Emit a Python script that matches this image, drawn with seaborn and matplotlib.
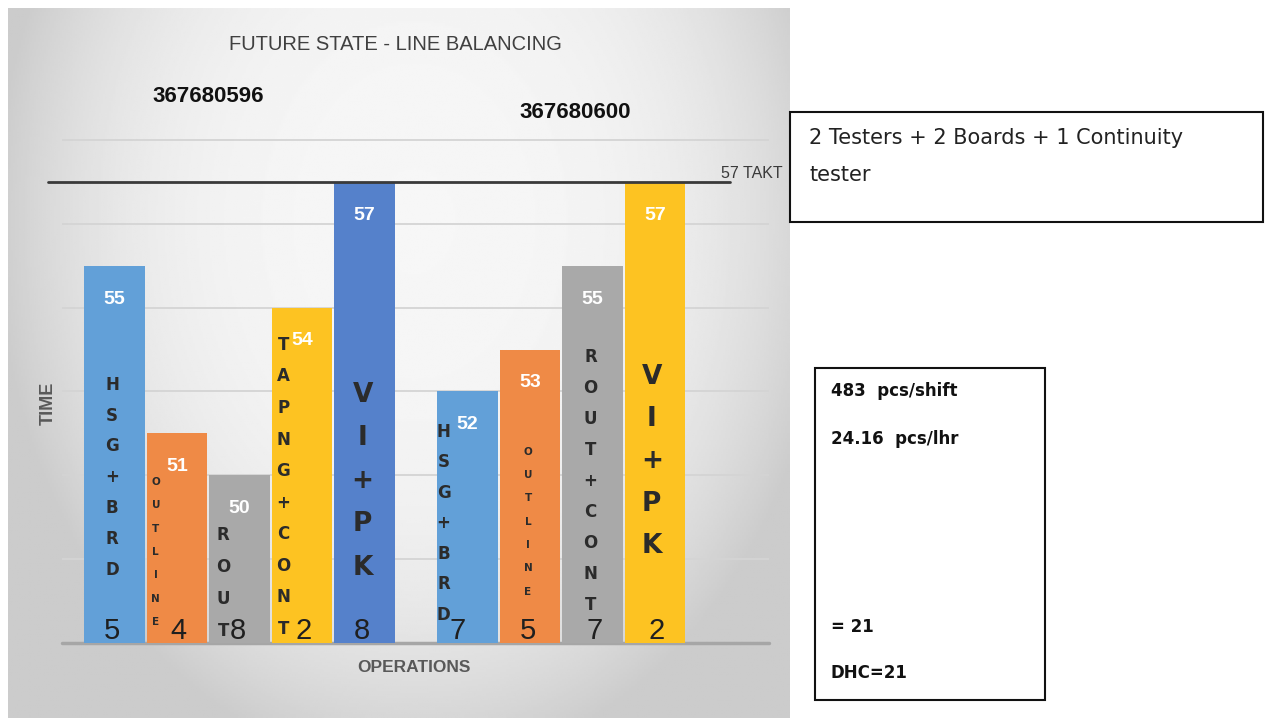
import numpy as np
import pandas as pd
import matplotlib
matplotlib.use("Agg")
import matplotlib.pyplot as plt
import seaborn as sns
from matplotlib import font_manager
from matplotlib.patches import Rectangle

# ---------------- data ----------------
operations = ["HSG+BRD", "OUTLINE", "ROUT", "TAPNG+CONT", "VI+PK",
              "HSG+BRD", "OUTLINE", "ROUT+CONT", "VI+PK"]
cycle_time = [55, 51, 50, 54, 57, 52, 53, 55, 57]
operators = [5, 4, 8, 2, 8, 7, 5, 7, 2]
group = [0, 0, 0, 0, 0, 1, 1, 1, 1]
part_numbers = ["367680596", "367680600"]
takt_time = 57
title = "FUTURE STATE - LINE BALANCING"
box1_lines = ["2 Testers + 2 Boards + 1 Continuity", "tester"]
box2_lines = ["483  pcs/shift", "24.16  pcs/lhr", "= 21", "DHC=21"]

# ---------------- style / layout ----------------
colors = ["#62a0d8", "#ef8a46", "#a9a9a9", "#fdc322", "#5581cb",
          "#62a0d8", "#ef8a46", "#a9a9a9", "#fdc322"]
group_gap = 0.645
# letter stack layout: (dx, top value, step, fontsize)
stack_layout = [(-0.04, 52.16, 0.735, 12), (-0.34, 49.84, 0.556, 7.5),
                (-0.26, 48.58, 0.764, 12), (-0.30, 53.11, 0.752, 12),
                (-0.03, 51.92, 1.03, 19), (-0.38, 51.04, 0.728, 12),
                (-0.03, 50.56, 0.556, 7.5), (-0.03, 52.83, 0.74, 12),
                (-0.05, 52.35, 1.01, 19)]
count_dx = [-0.04, 0.02, -0.02, 0.02, -0.04, -0.15, -0.03, 0.04, 0.03]

avail = {f.name for f in font_manager.fontManager.ttflist}
narrow = "Liberation Sans Narrow" if "Liberation Sans Narrow" in avail else "Liberation Sans"

sns.set_theme(style="white")
plt.rcParams["font.family"] = ["DejaVu Sans"]

W, H = 1265, 718
fig = plt.figure(figsize=(W / 100, H / 100), dpi=100)
fig.patch.set_facecolor("white")

# background gradient panel
bg = fig.add_axes([8 / W, 0, 782 / W, 710 / H], zorder=0)
gy, gx = np.mgrid[0:1:300j, 0:1:400j]
r = np.sqrt(((gx - 0.52) / 0.52) ** 2 + ((gy - 0.3) / 0.75) ** 2)
val = np.clip(0.965 - 0.15 * r ** 3, 0.8, 1)
bg.imshow(val, cmap="gray", vmin=0, vmax=1, aspect="auto", extent=[0, 1, 1, 0])
bg.set_axis_off()

# main axes
ax = fig.add_axes([62 / W, (H - 643) / H, 707 / W, 524 / H], zorder=1)
ax.set_facecolor("none")

pos = np.array([i + group_gap * g for i, g in enumerate(group)], dtype=float)
df = pd.DataFrame({"pos": pos, "time": cycle_time, "idx": [str(i) for i in range(len(pos))]})
sns.barplot(data=df, x="pos", y="time", hue="idx", palette=colors, native_scale=True,
            width=0.97, dodge=False, legend=False, saturation=1, linewidth=0,
            edgecolor="none", ax=ax, zorder=2)

ax.set_xlim(-0.84, 10.47)
ax.set_ylim(46, 58.5)
ax.set_yticks(np.arange(46, 59, 2))
ax.set_xticks([])
ax.set_yticklabels([])
ax.tick_params(left=False, bottom=False)
ax.grid(axis="y", color="#d4d4d4", lw=1.3, zorder=0)
ax.set_axisbelow(True)
for s in ax.spines.values():
    s.set_visible(False)
ax.axhline(46, color="#a6a6a6", lw=2.5, zorder=1.5, clip_on=False)
ax.set_xlabel("")
ax.set_ylabel("")

# takt line
ax.axhline(takt_time, xmin=-0.02, xmax=0.945, color="#3a3a3a", lw=2, zorder=3, clip_on=False)

# value labels, letter stacks, operator counts
for i, (p, v) in enumerate(zip(pos, cycle_time)):
    ax.annotate(str(v), xy=(p, v), xytext=(0, -24), textcoords="offset points",
                ha="center", va="center", color="white", fontsize=14,
                fontweight="bold", family=narrow, zorder=4)
    dx, top, step, fs = stack_layout[i]
    for k, ch in enumerate(operations[i]):
        ax.text(p + dx, top - k * step, ch, ha="center", va="center",
                fontsize=fs, fontweight="bold", color="#2b2b2b", family="DejaVu Sans", zorder=4)
    ax.text(p + count_dx[i], 46.29, str(operators[i]), ha="center", va="center",
            fontsize=21, color="#1f1f1f", family=narrow, zorder=4)

# titles / labels
fig.text(395 / W, 1 - 45 / H, title, ha="center", va="center", fontsize=14.5,
         color="#404040", family=narrow)
fig.text(208 / W, 1 - 97 / H, part_numbers[0], ha="center", va="center", fontsize=16,
         fontweight="bold", color="#111111", family=narrow)
fig.text(575 / W, 1 - 113 / H, part_numbers[1], ha="center", va="center", fontsize=16,
         fontweight="bold", color="#111111", family=narrow)
fig.text(721 / W, 1 - 174 / H, f"{takt_time} TAKT", ha="left", va="center", fontsize=11.5,
         color="#3a3a3a", family=narrow)
fig.text(48 / W, 1 - 403 / H, "TIME", ha="center", va="center", rotation=90, fontsize=13,
         fontweight="bold", color="#595959", family=narrow)
fig.text(414 / W, 1 - 668 / H, "OPERATIONS", ha="center", va="center", fontsize=12.5,
         fontweight="bold", color="#595959", family=narrow)

# right-hand boxes
fig.patches.append(Rectangle((790 / W, 1 - 222 / H), 473 / W, 110 / H, transform=fig.transFigure,
                             fill=False, edgecolor="#111111", lw=1.5))
fig.text(809 / W, 1 - 138 / H, box1_lines[0], ha="left", va="center", fontsize=15, color="#222222")
fig.text(809 / W, 1 - 175 / H, box1_lines[1], ha="left", va="center", fontsize=15, color="#222222")

fig.patches.append(Rectangle((815 / W, 1 - 700 / H), 230 / W, 332 / H, transform=fig.transFigure,
                             fill=False, edgecolor="#111111", lw=1.5))
for txt, yy in zip(box2_lines, [391, 439, 627, 673]):
    fig.text(831 / W, 1 - yy / H, txt, ha="left", va="center", fontsize=12,
             fontweight="bold", color="#111111")

fig.savefig("out.png", dpi=100)
